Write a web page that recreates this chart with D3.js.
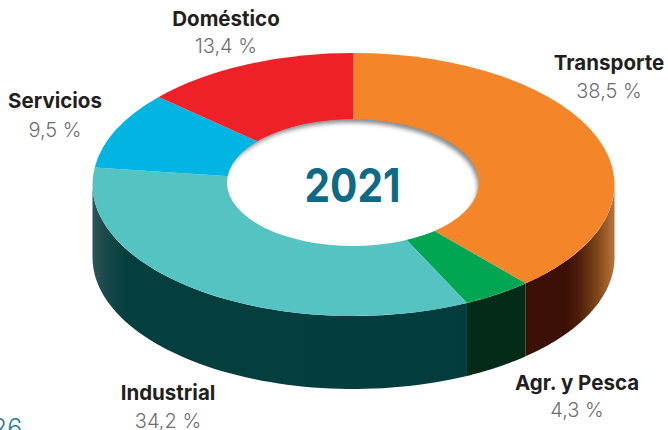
<!DOCTYPE html>
<html>
<head>
<meta charset="utf-8">
<script src="https://cdn.jsdelivr.net/npm/d3@7"></script>
<style>
  html, body { margin: 0; padding: 0; background: #fff; overflow: hidden; }
  svg { display: block; }
  text { font-family: Inter, sans-serif; text-anchor: middle; }
  .name { font-weight: 700; font-size: 20.5px; fill: #231f20; }
  .pct { font-weight: 300; font-size: 20px; fill: #6d6e71; }
</style>
</head>
<body>
<script>
// Data, clockwise from 12 o'clock
var categories = ['Transporte', 'Agr. y Pesca', 'Industrial', 'Servicios', 'Doméstico'];
var shares = [38.5, 4.3, 34.2, 9.5, 13.4];
var yearLabel = '2021';
var pageNumber = '26';

// Colours of the top face, per category
var topColors = ['#f58529', '#00a651', '#54c3c2', '#00b5e2', '#ed2127'];

// Set up size and the ellipse of the disc
var width = 668, height = 430;
var cx = 353.5, cy = 184.5, rx = 261, ry = 131.5, depth = 73;

// Where the labels sit: [center x, baseline of name, baseline of value]
var labelSpots = [[609, 70, 98], [577, 390, 417], [168, 400, 428], [55, 108, 137], [226, 26, 53]];

var svg = d3.select('body').append('svg')
  .attr('width', width)
  .attr('height', height);

var defs = svg.append('defs');

// Side wall shading runs left to right, in page coordinates
function wallGradient(id, stops) {
  var g = defs.append('linearGradient')
    .attr('id', id)
    .attr('gradientUnits', 'userSpaceOnUse')
    .attr('x1', cx - rx).attr('x2', cx + rx)
    .attr('y1', 0).attr('y2', 0);
  stops.forEach(function(s) {
    g.append('stop').attr('offset', (s[0] - (cx - rx)) / (2 * rx)).attr('stop-color', s[1]);
  });
  return 'url(#' + id + ')';
}

var wallColors = [
  wallGradient('wall0', [[93, '#3d1005'], [566, '#3d1005'], [578, '#4c1c0a'], [596, '#7b4418'], [614, '#b8713a']]),
  '#042b18',
  wallGradient('wall2', [[93, '#2f5455'], [104, '#1c4a4b'], [125, '#043f3e'], [614, '#033b3c']]),
  '#000',
  '#000'
];

defs.append('filter').attr('id', 'soft')
  .attr('x', '-10%').attr('y', '-10%').attr('width', '120%').attr('height', '120%')
  .append('feGaussianBlur').attr('stdDeviation', 2.2);

defs.append('clipPath').attr('id', 'holeClip')
  .append('ellipse')
  .attr('cx', 353).attr('cy', 182.5).attr('rx', 126).attr('ry', 63.5);

var pie = d3.pie().sort(null).value(function(d) { return d; });
var slices = pie(shares);

// Side walls: only the front half of the rim shows (90 to 270 degrees)
var frontStart = Math.PI / 2, frontEnd = 3 * Math.PI / 2;
var wallArea = d3.area()
  .x(function(a) { return cx + rx * Math.sin(a); })
  .y0(function(a) { return cy - ry * Math.cos(a); })
  .y1(function(a) { return cy - ry * Math.cos(a) + depth; });

slices.forEach(function(s, i) {
  var a0 = Math.max(s.startAngle, frontStart);
  var a1 = Math.min(s.endAngle, frontEnd);
  if (a1 <= a0) return;
  var angles = d3.range(61).map(function(k) { return a0 + (a1 - a0) * k / 60; });
  svg.append('path')
    .attr('d', wallArea(angles))
    .attr('fill', wallColors[i]);
});

// Top face
var arc = d3.arc().innerRadius(0).outerRadius(rx);
svg.append('g')
  .attr('transform', 'translate(' + cx + ',' + cy + ') scale(1,' + (ry / rx) + ')')
  .selectAll('path')
  .data(slices)
  .enter()
  .append('path')
  .attr('d', arc)
  .attr('fill', function(d, i) { return topColors[i]; });

// Hole with a soft shadow along its upper right edge
var hole = svg.append('g').attr('clip-path', 'url(#holeClip)');
hole.append('ellipse')
  .attr('cx', 353).attr('cy', 182.5).attr('rx', 126).attr('ry', 63.5)
  .attr('fill', '#8a8b8d');
hole.append('ellipse')
  .attr('cx', 350.5).attr('cy', 187).attr('rx', 127).attr('ry', 64.5)
  .attr('fill', '#fff')
  .attr('filter', 'url(#soft)');

svg.append('text')
  .attr('x', 352.5).attr('y', 202)
  .attr('textLength', 96).attr('lengthAdjust', 'spacingAndGlyphs')
  .style('font-weight', 700).style('font-size', '47px').style('fill', '#0f6a85')
  .text(yearLabel);

// Labels
categories.forEach(function(name, i) {
  var spot = labelSpots[i];
  svg.append('text').attr('class', 'name').attr('x', spot[0]).attr('y', spot[1]).text(name);
  svg.append('text').attr('class', 'pct').attr('x', spot[0]).attr('y', spot[2])
    .text(shares[i].toFixed(1).replace('.', ',') + ' %');
});

// Page number cut off by the crop
svg.append('text')
  .attr('x', 7).attr('y', 437)
  .style('font-size', '25px').style('font-weight', 300).style('fill', '#1f7a90')
  .text(pageNumber);
</script>
</body>
</html>
